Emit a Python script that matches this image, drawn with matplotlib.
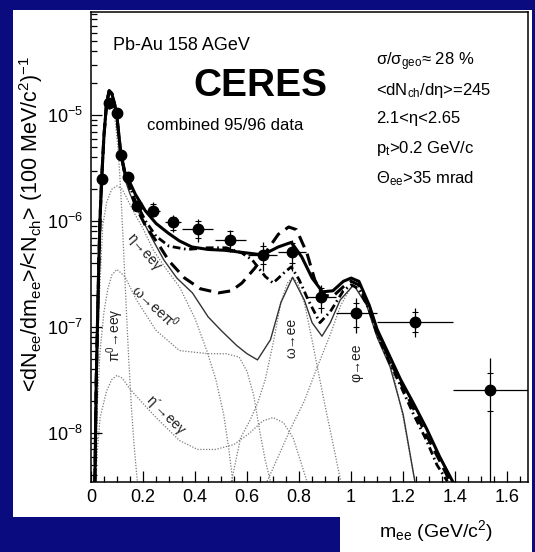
import matplotlib
matplotlib.use("Agg")
import matplotlib.pyplot as plt
from matplotlib.patches import Rectangle
from matplotlib.ticker import LogLocator, MultipleLocator, FuncFormatter, NullFormatter

plt.rcParams['font.family'] = ['Liberation Sans', 'DejaVu Sans']
plt.rcParams['mathtext.fontset'] = 'custom'
plt.rcParams['mathtext.rm'] = 'Liberation Sans'
plt.rcParams['mathtext.it'] = 'Liberation Sans:italic'
plt.rcParams['mathtext.bf'] = 'Liberation Sans:bold'

# CERES Pb-Au data points
data_x = [0.041, 0.07, 0.099, 0.114, 0.143, 0.178, 0.24, 0.316, 0.41, 0.535, 0.66, 0.773, 0.885, 1.02, 1.245, 1.535]
data_y = [2.5e-6, 1.3e-5, 1.04e-5, 4.2e-6, 2.6e-6, 1.38e-6, 1.25e-6, 9.7e-7, 8.4e-7, 6.6e-7, 4.8e-7, 5.1e-7, 1.92e-7, 1.35e-7, 1.12e-7, 2.55e-8]
data_xerr = [0.005, 0.005, 0.005, 0.005, 0.01, 0.015, 0.025, 0.03, 0.06, 0.06, 0.055, 0.055, 0.055, 0.08, 0.145, 0.145]
data_ylo = [2.2e-6, 1.15e-5, 9.2e-6, 3.8e-6, 2.35e-6, 1.25e-6, 1.1e-6, 7.9e-7, 6.3e-7, 5.1e-7, 3.4e-7, 3.4e-7, 1.35e-7, 8.8e-8, 8.1e-8, 1e-12]
data_yhi = [2.8e-6, 1.45e-5, 1.16e-5, 4.6e-6, 2.85e-6, 1.55e-6, 1.52e-6, 1.14e-6, 1.04e-6, 8.3e-7, 6.3e-7, 6.6e-7, 2.5e-7, 1.88e-7, 1.5e-7, 5.1e-8]
sys_lo = [2.3e-6, 1.2e-5, 9.5e-6, 3.9e-6, 2.4e-6, 1.28e-6, 1.12e-6, 8.2e-7, 6.9e-7, 5.5e-7, 3.9e-7, 4.0e-7, 1.5e-7, 1.0e-7, 9.0e-8, 1.6e-8]
sys_hi = [2.7e-6, 1.4e-5, 1.12e-5, 4.5e-6, 2.8e-6, 1.5e-6, 1.45e-6, 1.1e-6, 1.0e-6, 8.0e-7, 5.8e-7, 6.2e-7, 2.35e-7, 1.7e-7, 1.38e-7, 3.7e-8]

# thick model curves
solid_x = [0.015, 0.02, 0.025, 0.03, 0.035, 0.041, 0.05, 0.06, 0.07, 0.08, 0.09, 0.10, 0.114, 0.13, 0.143, 0.17,
           0.208, 0.25, 0.297, 0.34, 0.388, 0.45, 0.515, 0.60, 0.66, 0.72, 0.77, 0.81, 0.85, 0.89, 0.93, 0.97,
           1.00, 1.03, 1.07, 1.10, 1.15, 1.19, 1.24, 1.29, 1.34, 1.39]
solid_y = [3.5e-9, 3e-8, 1.1e-7, 4e-7, 1.1e-6, 2.5e-6, 6.5e-6, 1.3e-5, 1.7e-5, 1.6e-5, 1.3e-5, 9.5e-6, 4.5e-6, 2.9e-6, 2.5e-6, 1.8e-6,
           1.26e-6, 9.5e-7, 7.7e-7, 6.5e-7, 5.7e-7, 5.4e-7, 5.3e-7, 5.0e-7, 4.8e-7, 5.7e-7, 6.3e-7, 4.6e-7, 2.9e-7, 2.15e-7, 2.2e-7, 2.7e-7,
           2.9e-7, 2.7e-7, 1.6e-7, 9.5e-8, 5.2e-8, 3.2e-8, 1.9e-8, 1.1e-8, 6e-9, 3.5e-9]

dashed_x = [0.015, 0.02, 0.025, 0.03, 0.035, 0.041, 0.05, 0.06, 0.07, 0.08, 0.09, 0.10, 0.114, 0.13, 0.143, 0.17,
            0.21, 0.26, 0.30, 0.36, 0.42, 0.49, 0.54, 0.58, 0.63, 0.67, 0.72, 0.76, 0.79, 0.83, 0.86, 0.89, 0.93,
            0.97, 1.00, 1.03, 1.07, 1.10, 1.15, 1.19, 1.24, 1.29, 1.34, 1.38]
dashed_y = [3.5e-9, 3e-8, 1.1e-7, 4e-7, 1.1e-6, 2.5e-6, 6.5e-6, 1.3e-5, 1.7e-5, 1.6e-5, 1.3e-5, 9.5e-6, 4.4e-6, 2.8e-6, 2.3e-6, 1.4e-6,
            9e-7, 6e-7, 4.2e-7, 2.9e-7, 2.3e-7, 2.1e-7, 2.2e-7, 2.6e-7, 3.6e-7, 5e-7, 7.5e-7, 8.8e-7, 8.3e-7, 5e-7, 2.8e-7, 2e-7, 1.95e-7,
            2.4e-7, 2.7e-7, 2.5e-7, 1.5e-7, 9e-8, 4.8e-8, 3e-8, 1.7e-8, 9.5e-9, 5.5e-9, 3.5e-9]

dashdot_x = [0.015, 0.02, 0.025, 0.03, 0.035, 0.041, 0.05, 0.06, 0.07, 0.08, 0.09, 0.10, 0.114, 0.13, 0.143, 0.17,
             0.21, 0.25, 0.30, 0.37, 0.45, 0.52, 0.58, 0.62, 0.67, 0.70, 0.745, 0.77, 0.80, 0.835, 0.88, 0.92,
             0.97, 1.00, 1.03, 1.07, 1.10, 1.15, 1.19, 1.24, 1.29, 1.33, 1.37]
dashdot_y = [3.5e-9, 3e-8, 1.1e-7, 4e-7, 1.1e-6, 2.5e-6, 6.5e-6, 1.3e-5, 1.7e-5, 1.6e-5, 1.3e-5, 9.5e-6, 4.4e-6, 2.85e-6, 2.4e-6, 1.55e-6,
             1.0e-6, 7.2e-7, 5.8e-7, 5.4e-7, 5.6e-7, 5.6e-7, 5.0e-7, 4.3e-7, 3.0e-7, 2.6e-7, 3.3e-7, 3.7e-7, 2.8e-7, 1.8e-7, 1.1e-7, 1.4e-7,
             2.2e-7, 2.5e-7, 2.3e-7, 1.45e-7, 8.5e-8, 4.5e-8, 2.8e-8, 1.5e-8, 8.5e-9, 5e-9, 3.5e-9]

# hadron cocktail sum (thin solid)
cocktail_x = [0.015, 0.02, 0.025, 0.03, 0.035, 0.041, 0.05, 0.06, 0.07, 0.08, 0.09, 0.10, 0.114, 0.13, 0.15, 0.20,
              0.24, 0.28, 0.33, 0.39, 0.45, 0.50, 0.56, 0.60, 0.64, 0.69, 0.73, 0.775, 0.82, 0.85, 0.888, 0.92,
              0.958, 1.01, 1.06, 1.10, 1.15, 1.20, 1.245]
cocktail_y = [3.5e-9, 2.8e-8, 1e-7, 3.8e-7, 1e-6, 2.4e-6, 6.2e-6, 1.25e-5, 1.65e-5, 1.55e-5, 1.25e-5, 9e-6, 4.3e-6, 2.5e-6, 1.8e-6, 1.0e-6,
              6.5e-7, 4.3e-7, 2.9e-7, 2.1e-7, 1.25e-7, 9.3e-8, 6.7e-8, 5.6e-8, 4.9e-8, 7.6e-8, 1.7e-7, 2.95e-7, 1.8e-7, 1.1e-7, 8.2e-8, 1.1e-7,
              1.8e-7, 2.5e-7, 1.6e-7, 8e-8, 4.2e-8, 1.5e-8, 3.5e-9]

# cocktail components (dotted)
pi0_x = [0.012, 0.02, 0.025, 0.03, 0.035, 0.045, 0.055, 0.065, 0.075, 0.085, 0.095, 0.105, 0.115, 0.125, 0.135, 0.145, 0.155, 0.165, 0.178]
pi0_y = [3.5e-9, 2e-8, 8e-8, 3e-7, 8e-7, 3.3e-6, 9e-6, 1.4e-5, 1.45e-5, 1.2e-5, 8e-6, 4.5e-6, 1.8e-6, 5.5e-7, 1.6e-7, 5e-8, 1.8e-8, 8e-9, 3.5e-9]

eta_x = [0.012, 0.02, 0.03, 0.045, 0.06, 0.08, 0.10, 0.12, 0.14, 0.17, 0.20, 0.24, 0.29, 0.34, 0.40, 0.445, 0.48, 0.51, 0.53, 0.545]
eta_y = [3.5e-9, 1.5e-8, 1.5e-7, 9e-7, 1.5e-6, 2e-6, 2.15e-6, 2e-6, 1.6e-6, 1.15e-6, 8.5e-7, 5.3e-7, 3.5e-7, 2.4e-7, 1.2e-7, 6e-8, 3.2e-8, 1.5e-8, 7e-9, 3.5e-9]

omega_dalitz_x = [0.018, 0.025, 0.035, 0.05, 0.065, 0.08, 0.10, 0.13, 0.175, 0.25, 0.34, 0.45, 0.52, 0.57, 0.60, 0.625, 0.65, 0.67, 0.69]
omega_dalitz_y = [3.5e-9, 2e-8, 6e-8, 1.4e-7, 2.3e-7, 3.1e-7, 3.5e-7, 3e-7, 1.8e-7, 9.3e-8, 6e-8, 5.6e-8, 5.6e-8, 5.2e-8, 3.8e-8, 2.3e-8, 1e-8, 5.5e-9, 3.5e-9]

etap_x = [0.015, 0.035, 0.06, 0.08, 0.10, 0.12, 0.15, 0.20, 0.25, 0.34, 0.41, 0.48, 0.55, 0.61, 0.66, 0.70, 0.74, 0.777, 0.80, 0.83]
etap_y = [3.5e-9, 1.4e-8, 2.5e-8, 3.2e-8, 3.5e-8, 3.3e-8, 2.6e-8, 1.9e-8, 1.4e-8, 8.5e-9, 7e-9, 7e-9, 7.8e-9, 1e-8, 1.3e-8, 1.4e-8, 1.25e-8, 9e-9, 6e-9, 3.5e-9]

omega_x = [0.54, 0.575, 0.61, 0.64, 0.67, 0.70, 0.73, 0.755, 0.775, 0.795, 0.82, 0.85, 0.87, 0.90, 0.93, 0.96]
omega_y = [3.5e-9, 9e-9, 1.3e-8, 1.9e-8, 3.2e-8, 7e-8, 1.7e-7, 2.6e-7, 2.95e-7, 2.6e-7, 1.7e-7, 7.5e-8, 4.2e-8, 1.8e-8, 8e-9, 3.5e-9]

phi_x = [0.677, 0.72, 0.765, 0.82, 0.87, 0.92, 0.96, 1.00, 1.02, 1.04, 1.08, 1.12, 1.16, 1.20, 1.245]
phi_y = [3.5e-9, 6e-9, 1.07e-8, 2e-8, 4.2e-8, 8.5e-8, 1.6e-7, 2.4e-7, 2.5e-7, 2.35e-7, 1.4e-7, 7e-8, 3.8e-8, 1.4e-8, 3.5e-9]

navy = '#0a0b7e'
W, H = 535, 552

fig = plt.figure(figsize=(W / 100, H / 100), dpi=100, facecolor=navy)
fig.patches.append(Rectangle((13 / W, 1 - 517 / H), (532 - 13) / W, (517 - 10) / H,
                             transform=fig.transFigure, facecolor='white', edgecolor='none', zorder=-10))
fig.patches.append(Rectangle((340 / W, 0), (532 - 340) / W, 1 - 515 / H,
                             transform=fig.transFigure, facecolor='white', edgecolor='none', zorder=-10))

ax = fig.add_axes([91 / W, 1 - 482 / H, 437 / W, 470 / H])
ax.set_facecolor('white')

dot = dict(color='#7a7a7a', lw=0.9, ls=(0, (1, 1.3)))
ax.plot(pi0_x, pi0_y, **dot)
ax.plot(eta_x, eta_y, **dot)
ax.plot(omega_dalitz_x, omega_dalitz_y, **dot)
ax.plot(etap_x, etap_y, **dot)
ax.plot(omega_x, omega_y, **dot)
ax.plot(phi_x, phi_y, **dot)

ax.plot(cocktail_x, cocktail_y, color='#333333', lw=1.0)
ax.plot(dashed_x, dashed_y, color='black', lw=2.2, ls=(0, (4, 2.3)))
ax.plot(dashdot_x, dashdot_y, color='black', lw=2.0, ls=(0, (2.8, 1.3, 0.6, 1.3)))
ax.plot(solid_x, solid_y, color='black', lw=2.2)

yerr = [[y - lo for y, lo in zip(data_y, data_ylo)], [hi - y for y, hi in zip(data_y, data_yhi)]]
serr = [[y - lo for y, lo in zip(data_y, sys_lo)], [hi - y for y, hi in zip(data_y, sys_hi)]]
ax.errorbar(data_x, data_y, yerr=serr, fmt='none', ecolor='black', elinewidth=0, capsize=2.2, capthick=0.8)
ax.errorbar(data_x, data_y, xerr=data_xerr, yerr=yerr, fmt='o', color='black', ms=7.5,
            elinewidth=0.9, capsize=0, zorder=5)

ax.set_yscale('log')
ax.set_xlim(0, 1.68)
ax.set_ylim(3.45e-9, 9.4e-5)
ax.xaxis.set_major_locator(MultipleLocator(0.2))
ax.xaxis.set_minor_locator(MultipleLocator(0.05))
ax.xaxis.set_major_formatter(FuncFormatter(lambda v, p: f'{v:g}'))
ax.yaxis.set_major_locator(LogLocator(base=10, numticks=10))
ax.yaxis.set_minor_locator(LogLocator(base=10, subs=range(2, 10), numticks=20))
ax.yaxis.set_minor_formatter(NullFormatter())
ax.tick_params(which='both', direction='in', top=False, right=False, labelsize=13, width=0.9)
ax.tick_params(which='major', length=8)
ax.tick_params(which='minor', length=4)
ax.tick_params(axis='y', pad=6)
ax.tick_params(axis='x', pad=5)
for s in ax.spines.values():
    s.set_linewidth(1.1)

def px(x, y):
    return (x - 91) / 437, (482 - y) / 470

ax.text(*px(113, 45), 'Pb-Au 158 AGeV', transform=ax.transAxes, fontsize=13, va='center')
ax.text(*px(193, 86), 'CERES', transform=ax.transAxes, fontsize=28, fontweight='bold', va='center')
ax.text(*px(147, 125), 'combined 95/96 data', transform=ax.transAxes, fontsize=12, va='center')

right_texts = [r'σ/σ$_{\rm geo}$≈ 28 %', r'<dN$_{\rm ch}$/dη>=245', '2.1<η<2.65',
               r'p$_{\rm t}$>0.2 GeV/c', r'Θ$_{\rm ee}$>35 mrad']
for t, yy in zip(right_texts, [62, 90, 118, 148, 179]):
    ax.text(*px(376, yy), t, transform=ax.transAxes, fontsize=12, va='center')

lab = dict(transform=ax.transAxes, fontsize=10, ha='center', va='center', color='#222222')
ax.text(*px(144, 252), 'η→eeγ', rotation=-49, **lab)
ax.text(*px(155, 307), r'ω→eeπ$^{0}$', rotation=-43, **lab)
ax.text(*px(115, 335), r'π$^{0}$→eeγ', rotation=90, **lab)
ax.text(*px(165, 415), 'η´→eeγ', rotation=-45, **lab)
ax.text(*px(292, 338), 'ω→ee', rotation=90, **lab)
ax.text(*px(356, 363), 'φ→ee', rotation=90, **lab)

fig.text(31 / W, 1 - 224 / H, r'<dN$_{\rm ee}$/dm$_{\rm ee}$>/<N$_{\rm ch}$> (100 MeV/c$^{2}$)$^{-1}$',
         rotation=90, fontsize=15.5, ha='center', va='center')
fig.text(493 / W, 1 - 531 / H, r'm$_{\rm ee}$ (GeV/c$^{2}$)', fontsize=14, ha='right', va='center')

fig.savefig('out.png', dpi=100, facecolor=navy)
